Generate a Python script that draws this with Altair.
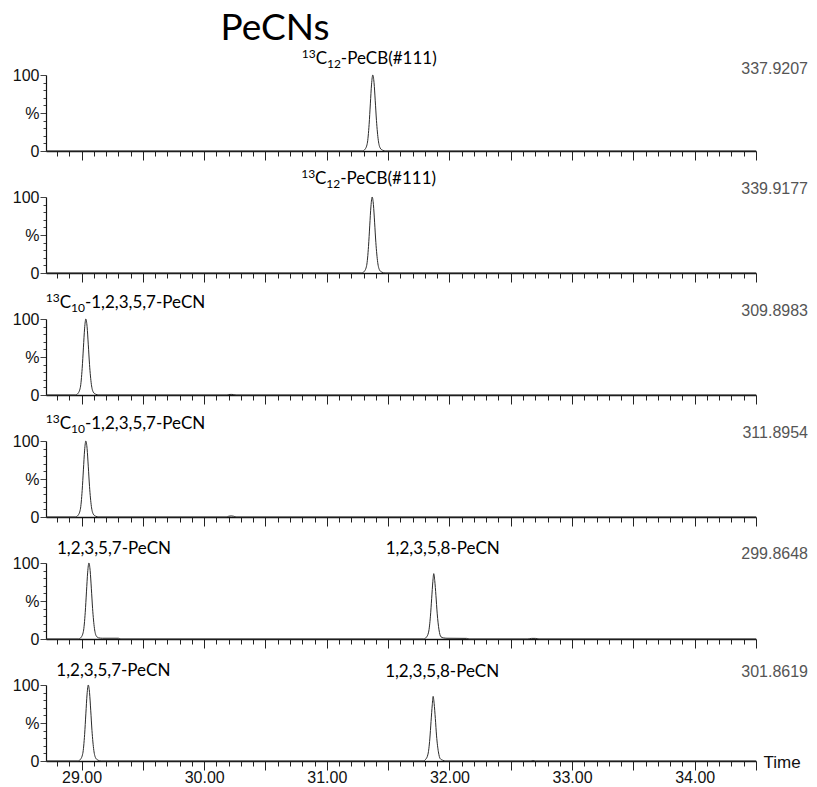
import altair as alt
import pandas as pd

# Selected-ion chromatograms for the PeCN window (m/z of each trace)
channels = ["337.9207", "339.9177", "309.8983", "311.8954", "299.8648", "301.8619"]

# Retention time (min) and relative intensity (%) for each trace
rt_337 = [28.71, 31.29, 31.31, 31.33, 31.345, 31.355, 31.365, 31.375, 31.385, 31.395,
          31.405, 31.42, 31.435, 31.455, 31.48, 34.50]
int_337 = [0, 0, 2, 10, 35, 62, 88, 100, 90, 66, 40, 14, 4, 1, 0, 0]

rt_339 = [28.71, 31.285, 31.305, 31.325, 31.34, 31.35, 31.36, 31.37, 31.38, 31.39,
          31.40, 31.415, 31.43, 31.45, 31.475, 34.50]
int_339 = [0, 0, 2, 10, 35, 62, 88, 100, 90, 66, 40, 14, 4, 1, 0, 0]

rt_309 = [28.71, 28.95, 28.97, 28.99, 29.005, 29.015, 29.025, 29.035, 29.045, 29.055,
          29.065, 29.08, 29.095, 29.115, 29.14, 30.18, 30.20, 30.22, 30.24, 30.26, 34.50]
int_309 = [0, 0, 2, 10, 35, 62, 88, 100, 90, 66, 40, 14, 4, 1, 0, 0, 0.6, 0.8, 0.6, 0, 0]

rt_311 = [28.71, 28.95, 28.97, 28.99, 29.005, 29.015, 29.025, 29.035, 29.045, 29.055,
          29.065, 29.08, 29.095, 29.115, 29.14, 30.18, 30.20, 30.22, 30.24, 30.26, 34.50]
int_311 = [0, 0, 2, 10, 35, 62, 88, 100, 90, 66, 40, 14, 4, 1, 0, 0, 1.0, 1.4, 1.0, 0, 0]

rt_299 = [28.71, 28.975, 28.995, 29.015, 29.03, 29.04, 29.05, 29.06, 29.07, 29.08,
          29.09, 29.105, 29.12, 29.14, 29.17, 29.30, 29.32,
          31.79, 31.81, 31.83, 31.845, 31.855, 31.865, 31.872, 31.88, 31.89, 31.90,
          31.915, 31.93, 31.95, 31.98, 32.14, 32.16,
          32.64, 32.67, 32.70, 32.73, 34.50]
int_299 = [0, 0, 2, 10, 35, 62, 88, 100, 90, 66, 40, 14, 4, 1.5, 1, 1, 0,
           0, 2, 9, 30, 53, 76, 86, 77, 57, 34, 12, 3, 1.5, 1, 0.8, 0,
           0, 0.8, 0.8, 0, 0]

rt_301 = [28.71, 28.97, 28.99, 29.01, 29.025, 29.035, 29.045, 29.055, 29.065, 29.075,
          29.085, 29.10, 29.115, 29.135, 29.16,
          31.785, 31.805, 31.825, 31.84, 31.85, 31.86, 31.867, 31.875, 31.885, 31.895,
          31.91, 31.925, 31.945, 31.97,
          32.66, 32.68, 32.70, 34.50]
int_301 = [0, 0, 2, 10, 35, 62, 88, 100, 90, 66, 40, 14, 4, 1, 0,
           0, 2, 9, 29, 52, 74, 85, 76, 56, 33, 12, 3, 1, 0,
           0, 0.6, 0, 0]

traces = [(rt_337, int_337), (rt_339, int_339), (rt_309, int_309),
          (rt_311, int_311), (rt_299, int_299), (rt_301, int_301)]

# Compound annotations, one list per trace.  Each label is a sequence of
# (text, kind) pieces: "n" normal, "sup" superscript, "sub" subscript.
pecb = [("13", "sup"), ("C", "n"), ("12", "sub"), ("-PeCB(#111)", "n")]
pecn_lab = [("13", "sup"), ("C", "n"), ("10", "sub"), ("-1,2,3,5,7-PeCN", "n")]
pecn7 = [("1,2,3,5,7-PeCN", "n")]
pecn8 = [("1,2,3,5,8-PeCN", "n")]

peak_labels = [
    [(pecb, 31.375)],
    [(pecb, 31.37)],
    [(pecn_lab, 29.035)],
    [(pecn_lab, 29.035)],
    [(pecn7, 29.06), (pecn8, 31.872)],
    [(pecn7, 29.055), (pecn8, 31.867)],
]

# Pixel offsets of each label's left edge from its peak, and its height above the panel
label_offsets = [
    [(-71, -16)],
    [(-71, -18)],
    [(-40, -16)],
    [(-40, -17)],
    [(-32, -14), (-48, -14)],
    [(-32, -14), (-48, -13)],
]
mass_dy = [-6, -8, -8, -8, -9, -13]

x_ticks = [round(28.8 + 0.1 * i, 1) for i in range(58)]
y_ticks = list(range(0, 101, 10))

W, H = 710, 76
LABEL_FONT = "Lato"
AXIS_FONT = "Liberation Sans"
FS = 17        # annotation font size
FS_SMALL = 12  # super/subscript size
# approximate advance widths (em) used to chain label pieces
EM = {"13": 1.16, "12": 1.16, "10": 1.16, "C": 0.66}

x_scale = alt.Scale(domain=[28.71, 34.5], nice=False, zero=False)
y_scale = alt.Scale(domain=[0, 100], nice=False)

y_axis = alt.Axis(
    values=y_ticks,
    labelExpr="datum.value == 100 ? '100' : datum.value == 50 ? '%' : datum.value == 0 ? '0' : ''",
    tickSize={"condition": {"test": "datum.value % 50 == 0", "value": 6}, "value": 3},
    labelPadding=1,
    labelFont=AXIS_FONT,
    labelFontSize=16,
    labelColor="#111",
    labelOverlap=False,
    domainColor="#111",
    domainWidth=1.2,
    tickColor="#444",
    grid=False,
)


def x_axis(last):
    opts = dict(
        values=x_ticks,
        tickSize={"condition": {"test": "abs(datum.value * 2 - round(datum.value * 2)) < 0.001",
                                "value": 9}, "value": 5},
        tickColor="#222",
        domainColor="#111",
        domainWidth=1.5,
        grid=False,
        labelOverlap=False,
        labelFlush=False,
        labels=last,
    )
    if last:
        opts.update(
            labelExpr="abs(datum.value - round(datum.value)) < 0.001 ? format(datum.value, '.2f') : ''",
            labelFont=AXIS_FONT,
            labelFontSize=16,
            labelColor="#111",
            labelPadding=-1,
            titleFont=AXIS_FONT,
            titleFontSize=17,
            titleFontWeight="normal",
            titleColor="#111",
            titleAlign="left",
            titleBaseline="middle",
            titleX=W + 7,
            titleY=1,
            titleAngle=0,
        )
    return alt.Axis(**opts)


def x_enc(last):
    return alt.X("time:Q", scale=x_scale, axis=x_axis(last),
                 title="Time" if last else None)


def label_layers(pieces, rt, dx0, dy, last):
    out = []
    dx = dx0
    for text, kind in pieces:
        size = FS if kind == "n" else FS_SMALL
        shift = {"n": 0, "sup": -5, "sub": 5}[kind]
        out.append(
            alt.Chart(pd.DataFrame({"time": [rt], "label": [text]})).mark_text(
                font=LABEL_FONT, fontSize=size, color="#000", align="left",
                baseline="middle", dx=dx,
            ).encode(
                x=x_enc(last),
                y=alt.value(dy + shift),
                text="label:N",
            )
        )
        if text in EM:
            dx += EM[text] * size
    return out


panels = []
for i, (rts, vals) in enumerate(traces):
    last = i == len(traces) - 1
    df = pd.DataFrame({"time": rts, "intensity": vals})
    line = alt.Chart(df).mark_line(color="#2a2a2a", strokeWidth=1, interpolate="monotone").encode(
        x=x_enc(last),
        y=alt.Y("intensity:Q", scale=y_scale, axis=y_axis, title=None),
    )
    layers = [line]

    for (pieces, rt), (dx, dy) in zip(peak_labels[i], label_offsets[i]):
        layers.extend(label_layers(pieces, rt, dx, dy, last))

    mass = alt.Chart(pd.DataFrame({"m": [channels[i]]})).mark_text(
        font=AXIS_FONT, fontSize=16, color="#555", align="right", baseline="middle",
    ).encode(x=alt.value(W + 52), y=alt.value(mass_dy[i]), text="m:N")
    layers.append(mass)

    if i == 0:
        title = alt.Chart(pd.DataFrame({"t": ["PeCNs"]})).mark_text(
            font=LABEL_FONT, fontSize=37, color="#000", align="center", baseline="middle",
        ).encode(x=alt.value(229), y=alt.value(-46), text="t:N")
        layers.append(title)

    panels.append(alt.layer(*layers).properties(width=W, height=H))

chart = alt.vconcat(*panels, spacing=46, bounds="flush").properties(
    padding={"left": 12, "top": 10, "right": 5, "bottom": 2},
    background="white",
).configure_view(strokeWidth=0)

chart.save("out.html", embed_options={"renderer": "svg", "actions": False})
